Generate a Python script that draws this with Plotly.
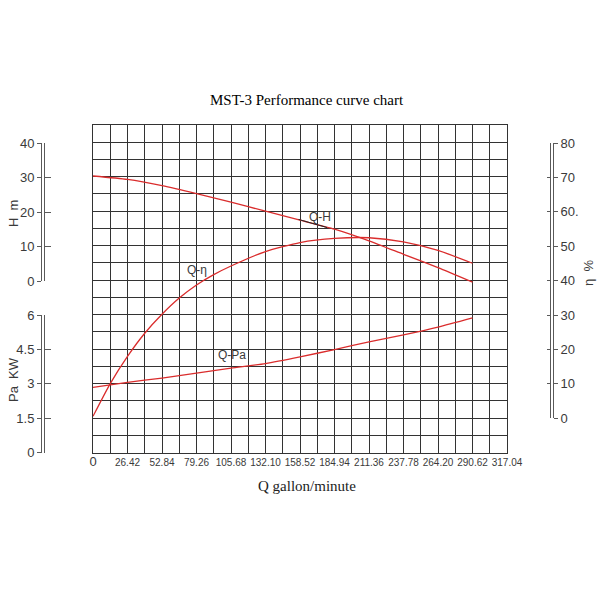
import plotly.graph_objects as go

# ---------------- data ----------------
Q_TICK_LABELS = ["0", "26.42", "52.84", "79.26", "105.68", "132.10", "158.52",
                 "184.94", "211.36", "237.78", "264.20", "290.62", "317.04"]

Q_H = [0, 26.42, 52.84, 79.26, 105.68, 132.10, 158.52, 184.94, 211.36, 237.78, 264.20, 290.62]
H_m = [30.2, 29.2, 27.4, 25.1, 22.6, 20.0, 17.4, 14.8, 11.4, 7.5, 3.6, -0.6]

Q_ETA = [0, 13.21, 26.42, 39.63, 52.84, 66.05, 79.26, 92.47, 105.68, 132.10,
         158.52, 184.94, 211.36, 237.78, 264.20, 290.62]
ETA_pct = [0.5, 10.0, 17.9, 24.6, 30.1, 34.8, 38.6, 41.6, 44.1, 48.3,
           50.9, 52.1, 52.3, 51.1, 48.6, 44.9]

Q_PA = [0, 26.42, 52.84, 79.26, 105.68, 132.10, 158.52, 184.94, 211.36, 237.78, 264.20, 290.62]
PA_kw = [2.83, 3.05, 3.24, 3.45, 3.67, 3.87, 4.16, 4.48, 4.81, 5.12, 5.46, 5.86]

H_TICKS = [0, 10, 20, 30, 40]
PA_TICKS = [0, 1.5, 3, 4.5, 6]
ETA_TICKS = [0, 10, 20, 30, 40, 50, 60, 70, 80]
ETA_TICK_TEXT = ["0", "10", "20", "30", "40", "50", "60.", "70", "80"]

# ---------------- layout helpers ----------------
W = H_PX = 600
def px_x(p): return p / W
def px_y(p): return 1 - p / H_PX

RED = "rgb(218,45,45)"
GRID = "#333333"
AX = "#5a5a5a"
TXT = "#3a3a3a"
SANS = "Liberation Sans, Arial, sans-serif"
NARROW = "Liberation Sans Narrow, Arial Narrow, Liberation Sans, sans-serif"
SERIF = "Liberation Serif, Times New Roman, serif"

Q_MAX = 317.04
Q_STEP = Q_MAX / 24
grid_vals = [i * Q_STEP for i in range(25)]
grid_text = []
for i in range(25):
    if i % 2:
        grid_text.append("")
    elif i == 0:
        grid_text.append("<span style='font-size:13px'>%s</span>" % Q_TICK_LABELS[0])
    else:
        grid_text.append(Q_TICK_LABELS[i // 2])

fig = go.Figure()
line_style = dict(color=RED, width=1.3, shape="spline", smoothing=0.6)
for ax in ["y4", "y5", "y6", "y7", "y8", "y9"]:
    fig.add_trace(go.Scatter(x=[None], y=[None], xaxis="x2", yaxis=ax,
                             mode="markers", showlegend=False, hoverinfo="skip"))
fig.add_trace(go.Scatter(x=Q_ETA, y=ETA_pct, xaxis="x", yaxis="y", mode="lines",
                         line=line_style, showlegend=False, hoverinfo="skip"))
fig.add_trace(go.Scatter(x=Q_H, y=H_m, xaxis="x", yaxis="y2", mode="lines",
                         line=line_style, showlegend=False, hoverinfo="skip"))
fig.add_trace(go.Scatter(x=Q_PA, y=PA_kw, xaxis="x", yaxis="y3", mode="lines",
                         line=line_style, showlegend=False, hoverinfo="skip"))

X_DOM = [px_x(93), px_x(507)]
Y_DOM = [px_y(452.5), px_y(125)]

def disp_axis(dom, rng, tickvals, pos, side, ticks, ticklen, labels, ticktext=None):
    d = dict(domain=dom, range=rng, anchor="free", position=pos, side=side,
             tickvals=tickvals, ticks=ticks, ticklen=ticklen, tickwidth=1,
             tickcolor=AX, showline=True, linecolor=AX, linewidth=1,
             showgrid=False, zeroline=False, showticklabels=labels,
             automargin=False,
             tickfont=dict(family=SANS, size=13, color=TXT), fixedrange=True)
    if ticktext is not None:
        d["ticktext"] = ticktext
    return d

H_DOM = [px_y(281), px_y(143)]
PA_DOM = [px_y(452.7), px_y(315)]
ETA_DOM = [px_y(418.3), px_y(143)]

fig.update_layout(
    template="none",
    width=600, height=600, autosize=False,
    margin=dict(l=0, r=0, t=0, b=0, pad=0),
    paper_bgcolor="white", plot_bgcolor="rgba(0,0,0,0)",
    showlegend=False,
    xaxis=dict(domain=X_DOM, range=[0, Q_MAX], anchor="y",
               tickvals=grid_vals, ticktext=grid_text, ticks="",
               showgrid=True, gridcolor=GRID, gridwidth=1,
               showline=True, mirror=True, linecolor=GRID, linewidth=1,
               zeroline=False, automargin=False,
               tickfont=dict(family=NARROW, size=10, color=TXT)),
    yaxis=dict(domain=Y_DOM, range=[-10, 85], anchor="x",
               tickvals=list(range(-10, 86, 5)), showticklabels=False, ticks="",
               showgrid=True, gridcolor=GRID, gridwidth=1,
               showline=True, mirror=True, linecolor=GRID, linewidth=1,
               zeroline=False, automargin=False),
    yaxis2=dict(overlaying="y", range=[-50, 45], visible=False, anchor="x", automargin=False),
    yaxis3=dict(overlaying="y", range=[0, 14.25], visible=False, anchor="x", automargin=False),
    xaxis2=dict(domain=X_DOM, range=[0, 1], visible=False, anchor="y4", automargin=False,
                showgrid=False),
    yaxis4=disp_axis(H_DOM, [0, 40], H_TICKS, px_x(41), "left", "outside", 4, True),
    yaxis5=disp_axis(H_DOM, [0, 40], H_TICKS, px_x(44), "left", "inside", 6, False),
    yaxis6=disp_axis(PA_DOM, [0, 6], PA_TICKS, px_x(41), "left", "outside", 4, True),
    yaxis7=disp_axis(PA_DOM, [0, 6], PA_TICKS, px_x(44), "left", "inside", 6, False),
    yaxis8=disp_axis(ETA_DOM, [0, 80], ETA_TICKS, px_x(553), "right", "outside", 4, True, ETA_TICK_TEXT),
    yaxis9=disp_axis(ETA_DOM, [0, 80], ETA_TICKS, px_x(550), "right", "inside", 3, False),
)

ann = [
    dict(text="MST-3 Performance curve chart", x=px_x(307), y=px_y(100),
         font=dict(family=SERIF, size=15, color="#000")),
    dict(text="Q gallon/minute", x=px_x(307), y=px_y(486),
         font=dict(family=SERIF, size=15, color="#222")),
    dict(text="H  m", x=px_x(13), y=px_y(214), textangle=-90,
         font=dict(family=SANS, size=13, color=TXT)),
    dict(text="Pa  KW", x=px_x(13), y=px_y(380), textangle=-90,
         font=dict(family=SANS, size=13, color=TXT)),
    dict(text="η  %", x=px_x(588), y=px_y(273), textangle=-90,
         font=dict(family=SANS, size=13, color=TXT)),
    dict(text="Q-H", x=px_x(320), y=px_y(217),
         font=dict(family=SANS, size=12, color=TXT)),
    dict(text="Q-η", x=px_x(197), y=px_y(270),
         font=dict(family=SANS, size=12, color=TXT)),
    dict(text="Q-Pa", x=px_x(232), y=px_y(355),
         font=dict(family=SANS, size=12, color=TXT)),
]
for a in ann:
    a.update(xref="paper", yref="paper", showarrow=False, xanchor="center", yanchor="middle")
# short black leader under the Q-H label
ann.append(dict(text="", xref="paper", yref="paper", x=px_x(327), y=px_y(227.5),
                ax=-30, ay=-8.5, showarrow=True, arrowhead=0, arrowwidth=1,
                arrowcolor="#222", standoff=0, startstandoff=0))
fig.update_layout(annotations=ann)

fig.write_html("out.html",
               config={"displayModeBar": False, "staticPlot": True},
               post_script="document.body.style.margin='0px';document.body.style.overflow='hidden';")
